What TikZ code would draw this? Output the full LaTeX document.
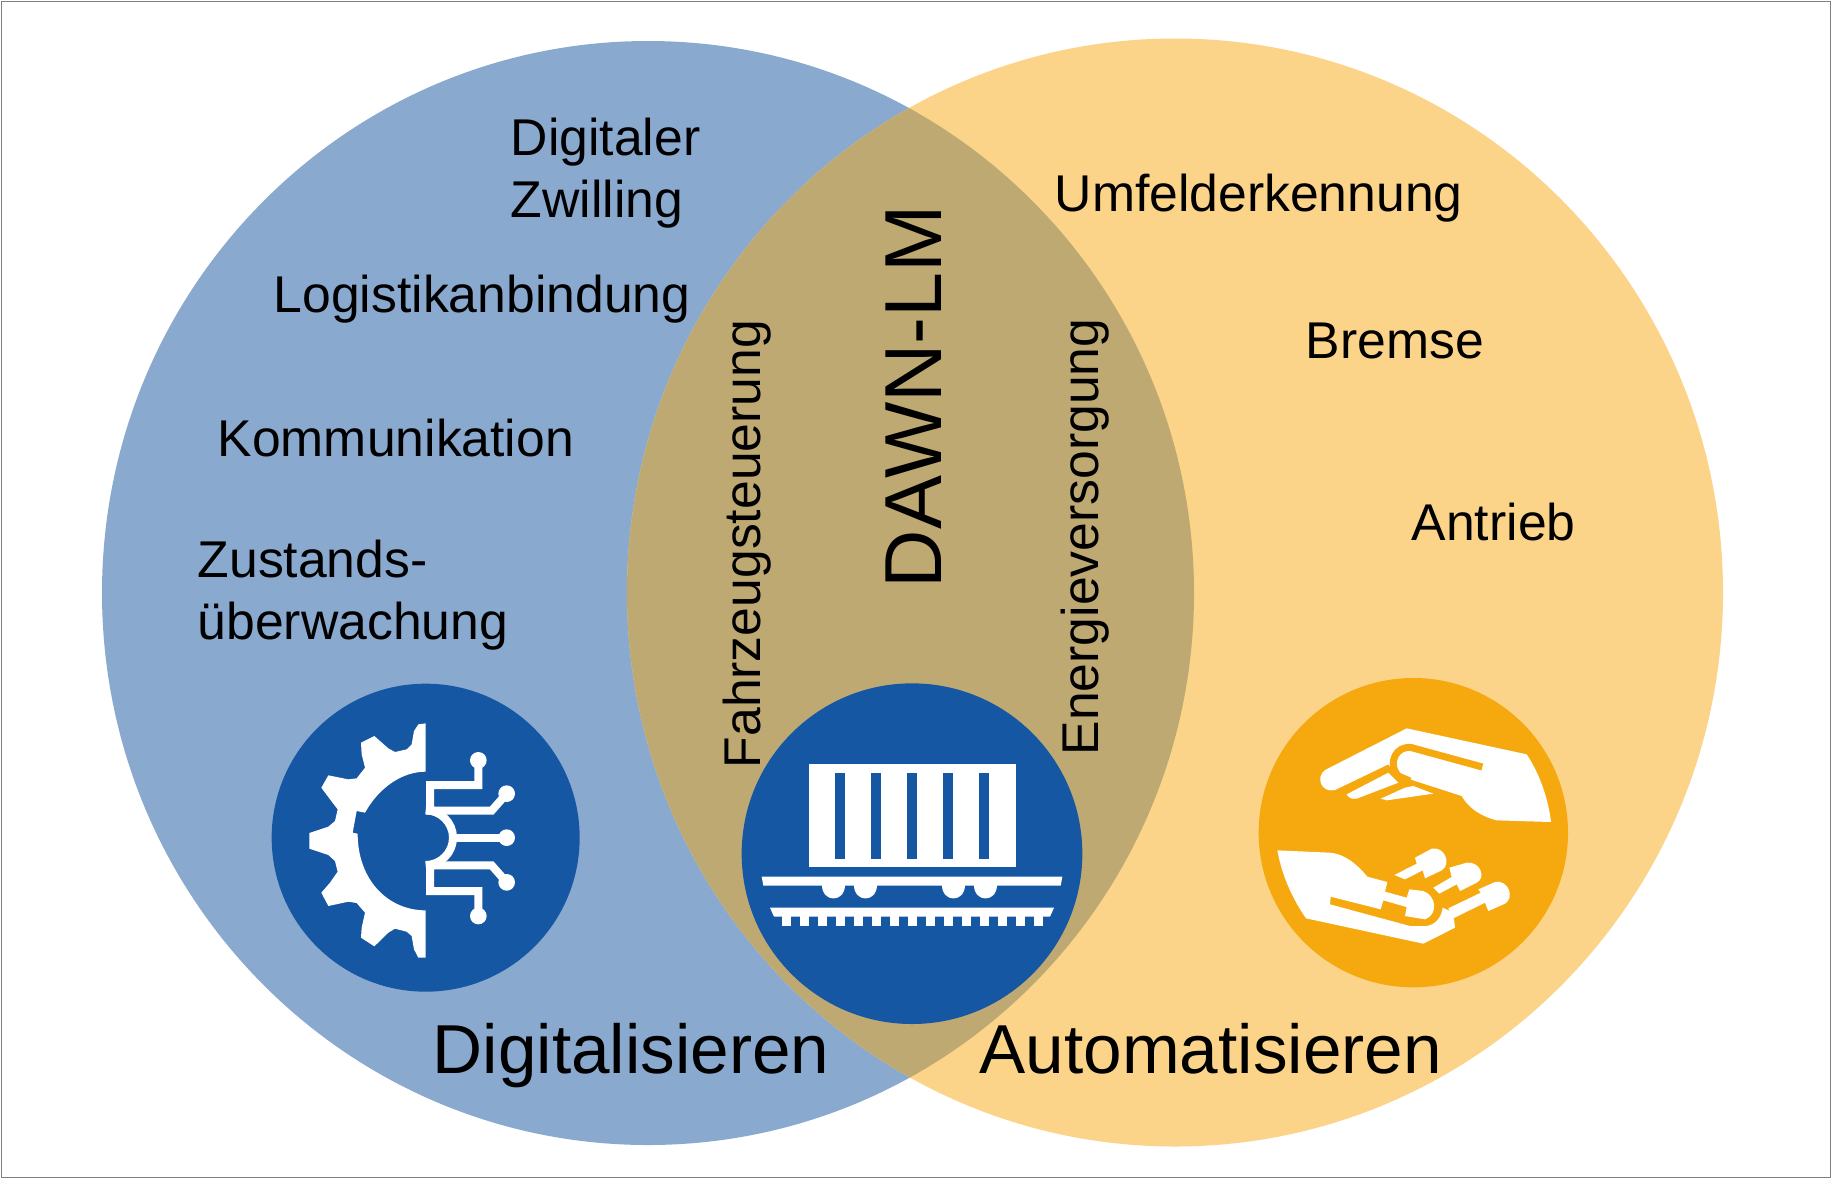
\documentclass[tikz,border=0pt]{standalone}
\usepackage{fontspec}
\setmainfont{Liberation Sans}
\usetikzlibrary{positioning}
\definecolor{digiblue}{HTML}{8AA9CF}
\definecolor{autoyellow}{HTML}{FBD489}
\definecolor{overlapbrown}{HTML}{BFA972}
\definecolor{iconblue}{HTML}{1657A3}
\definecolor{iconorange}{HTML}{F5A90F}
\tikzset{
	smalltext/.style = {inner sep = 0, font = \fontsize{14.7}{17.6}\selectfont, align = left},
	bigtext/.style = {inner sep = 0, font = \fontsize{19.7}{24}\selectfont},
	circuit/.style = {draw = white, line width = 0.08cm},
	slit/.style = {draw = iconorange, line width = 0.07cm}
}
\newcommand{\leftdisc}{(648,593) ellipse [x radius = 546, y radius = 552]}
\newcommand{\rightdisc}{(1175,592.5) ellipse [x radius = 548, y radius = 554]}
\newcommand{\gearicon}{\fill[iconblue] (527,530) circle [radius = 462];
					\fill[white] (527,187) -- (505,190) -- (492,210) -- (485,250) -- (470,265) -- (435,273) -- (415,262) -- (373,225) -- (333,245) -- (335,280) -- (345,320) -- (320,352) -- (295,355) -- (235,343) -- (214,380) -- (240,415) -- (263,445) -- (255,480) -- (235,497) -- (178,516) -- (178,563) -- (235,582) -- (255,600) -- (263,632) -- (240,665) -- (214,695) -- (235,735) -- (295,722) -- (320,726) -- (345,755) -- (335,800) -- (333,830) -- (373,856) -- (415,815) -- (435,803) -- (470,812) -- (485,825) -- (492,865) -- (505,890) -- (527,890) -- (527,748) .. controls (412,748) and (323,655) .. (323,518) -- (308,515) -- (320,450) -- (345,455) .. controls (390,375) and (460,332) .. (527,332) -- cycle;
					\draw[circuit] (685,298) -- (685,372) -- (540,372) -- (540,449) -- (725,449) -- (770,398);
					\draw[circuit] (685,765) -- (685,690) -- (540,690) -- (540,613) -- (725,613) -- (770,664);
					\draw[circuit] (527,448) .. controls (572,448) and (609,485) .. (609,530) .. controls (609,575) and (572,612) .. (527,612);
					\draw[circuit] (609,530) -- (770,530);
					\foreach \px/\py in {685/298, 770/398, 770/530, 770/664, 685/765}
						\fill[white] (\px,\py) circle [radius = 25];}
\newcommand{\trainicon}{\fill[iconblue] (546,551) circle [radius = 511];
					\fill[white] (236,283) rectangle (858,592);
					\foreach \px in {316,424,532,640,748}
						\fill[iconblue] (\px,308) rectangle (\px+29,566);
					\fill[white] (95,620) -- (997,620) -- (992,647) -- (100,647) -- cycle;
					\foreach \px in {276,371,635,731}
						\fill[white] (\px,645) .. controls (\px,700) and (\px+70,700) .. (\px+70,645) -- cycle;
					\fill[white] (120,713) -- (972,713) -- (960,740) -- (132,740) -- cycle;
					\foreach \px in {155,209,...,911}
						\fill[white] (\px,738) rectangle (\px+27,768);}
\newcommand{\handicon}{\fill[iconorange] (490,485) circle [radius = 464];
					\fill[white] (470,172) -- (830,250) .. controls (870,310) and (895,385) .. (903,453) -- (740,448) .. controls (690,435) and (655,410) .. (635,375) -- (480,325) -- (445,322) -- (415,280) -- (255,357) .. controls (215,367) and (195,320) .. (225,297) -- cycle;
					\draw[slit] (697,288) -- (485,230) .. controls (440,222) and (410,275) .. (445,315) -- (480,330);
					\fill[white] (290,370) -- (415,305) -- (445,335) -- (320,383) .. controls (305,385) and (295,380) .. (290,370) -- cycle;
					\fill[white] (392,383) -- (465,350) -- (490,345) -- (550,368) -- (410,388) -- cycle;
					\fill[white] (82,538) -- (240,545) .. controls (290,550) and (325,585) .. (352,617) -- (412,633) -- (405,662) -- (470,680) -- (478,655) -- (520,660) .. controls (560,675) and (565,730) .. (525,745) -- (465,735) -- (470,708) -- (400,688) -- (392,715) -- (242,677) -- (240,700) -- (480,765) -- (530,765) .. controls (560,760) and (575,735) .. (578,710) -- (600,720) -- (612,745) -- (615,770) -- (520,818) -- (168,742) .. controls (125,680) and (95,610) .. (82,538) -- cycle;
					\fill[white] (433,612) -- (500,578) -- (495,560) -- (545,533) .. controls (585,525) and (605,580) .. (575,598) -- (525,622) -- (518,598) -- (465,625) -- cycle;
					\fill[white] (550,650) -- (605,618) -- (598,590) -- (650,575) .. controls (690,570) and (710,620) .. (680,635) -- (630,660) -- (620,640) -- (568,668) -- cycle;
					\fill[white] (595,712) -- (692,665) -- (685,655) -- (735,633) .. controls (775,625) and (795,680) .. (765,698) -- (715,720) -- (705,695) -- (610,742) -- cycle;}

\begin{document}
\begin{tikzpicture}[x = 0.01cm, y = -0.01cm]
	\useasboundingbox (0,0) rectangle (1831,1178);
	\draw[gray, line width = 0.01cm] (1,1) rectangle (1830,1177);

	\fill[digiblue] \leftdisc;
	\fill[autoyellow] \rightdisc;
	\begin{scope}
		\clip \leftdisc;
		\fill[overlapbrown] \rightdisc;
	\end{scope}

	\begin{scope}[shift = {(250,661)}, scale = 1/3]
		\gearicon
	\end{scope}

	\begin{scope}[shift = {(730,670)}, scale = 1/3]
		\trainicon
	\end{scope}

	\begin{scope}[shift = {(1250,671)}, scale = 1/3]
		\handicon
	\end{scope}

	\node[smalltext, anchor = west] (zwilling) at (510,173) {Digitaler\\Zwilling};
	\node[smalltext, anchor = base west] (logistik) at (273,312) {Logistikanbindung};
	\node[smalltext, anchor = base west] (kommunikation) at (217,456) {Kommunikation};
	\node[smalltext, anchor = west] (zustand) at (197,595) {Zustands-\\überwachung};
	\node[smalltext, anchor = base west] (umfeld) at (1054,211) {Umfelderkennung};
	\node[smalltext, anchor = base west] (bremse) at (1305,358) {Bremse};
	\node[smalltext, anchor = base west] (antrieb) at (1411,540) {Antrieb};
	\node[bigtext, anchor = base west] (digital) at (432,1073) {Digitalisieren};
	\node[bigtext, anchor = base west] (auto) at (979,1073) {Automatisieren};
	\node[inner sep = 0, font = \fontsize{23}{27}\selectfont, anchor = base west, rotate = 90] (dawn) at (941,589) {DAWN-LM};
	\node[smalltext, anchor = base west, rotate = 90] (fahrzeug) at (760,769) {Fahrzeugsteuerung};
	\node[smalltext, anchor = base west, rotate = 90] (energie) at (1098,756) {Energieversorgung};
\end{tikzpicture}
\end{document}
